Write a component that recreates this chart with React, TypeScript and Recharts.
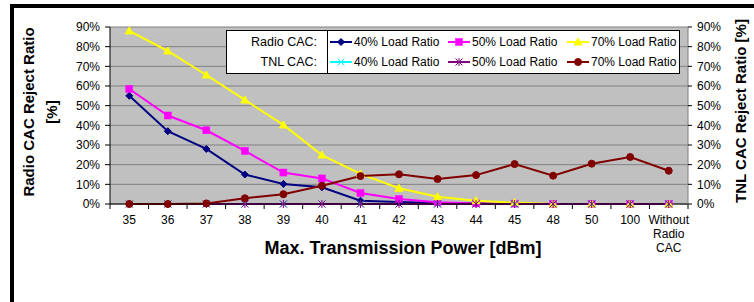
import React from 'react';
import { LineChart, Line, XAxis, YAxis, CartesianGrid } from 'recharts';

const categories = ['35', '36', '37', '38', '39', '40', '41', '42', '43', '44', '45', '48', '50', '100', 'Without Radio CAC'];
const radio40 = [55, 37, 28, 15, 10.2, 8.5, 1.7, 1.0, 0.5, 0.2, 0, 0, 0, 0, 0];
const radio50 = [58.5, 45, 37.5, 27, 16, 13, 5.6, 2.5, 0.9, 0.3, 0.2, 0, 0, 0, 0];
const radio70 = [88, 77.8, 65.6, 52.9, 40.2, 24.9, 15.3, 8, 3.7, 1.7, 0.7, 0, 0, 0, 0];
const tnl40 = [0, 0, 0, 0, 0, 0, 0, 0, 0, 0, 0, 0, 0, 0, 0];
const tnl50 = [0, 0, 0, 0, 0, 0, 0, 0, 0, 0, 0, 0, 0, 0, 0];
const tnl70 = [0, 0, 0.3, 2.9, 5, 9.3, 14.2, 15.1, 12.7, 14.7, 20.3, 14.4, 20.5, 23.9, 16.9];
const yTicks = [0, 10, 20, 30, 40, 50, 60, 70, 80, 90];
const legendLabel = '40% Load Ratio';
const legendLabels50 = '50% Load Ratio';
const legendLabels70 = '70% Load Ratio';

const data = categories.map((c, i) => ({
  idx: i,
  cat: c,
  r40: radio40[i],
  r50: radio50[i],
  r70: radio70[i],
  t40: tnl40[i],
  t50: tnl50[i],
  t70: tnl70[i],
}));

const xTicks: number[] = [];
for (let i = 0; i < categories.length; i++) {
  xTicks.push(i - 0.5);
  xTicks.push(i);
}
xTicks.push(categories.length - 0.5);

const FONT = '"Liberation Sans", Arial, sans-serif';

const C_R40 = '#000080';
const C_R50 = '#FF00FF';
const C_R70 = '#FFFF00';
const C_T40 = '#00FFFF';
const C_T50 = '#800080';
const C_T70 = '#800000';

type MK = 'diamond' | 'square' | 'triangle' | 'x' | 'star' | 'circle';

const Marker = ({ type, cx, cy, color }: { type: MK; cx: number; cy: number; color: string }) => {
  switch (type) {
    case 'diamond':
      return <path d={`M${cx},${cy - 3.5}L${cx + 3.5},${cy}L${cx},${cy + 3.5}L${cx - 3.5},${cy}Z`} fill={color} stroke={color} />;
    case 'square':
      return <rect x={cx - 3.5} y={cy - 3.5} width={7} height={7} fill={color} stroke={color} strokeWidth={0.5} />;
    case 'triangle':
      return <path d={`M${cx},${cy - 4}L${cx + 4},${cy + 3}L${cx - 4},${cy + 3}Z`} fill={color} stroke={color} />;
    case 'x':
      return (
        <g stroke={color} strokeWidth={1}>
          <line x1={cx - 3.5} y1={cy - 3.5} x2={cx + 3.5} y2={cy + 3.5} />
          <line x1={cx - 3.5} y1={cy + 3.5} x2={cx + 3.5} y2={cy - 3.5} />
        </g>
      );
    case 'star':
      return (
        <g stroke={color} strokeWidth={1}>
          <line x1={cx - 3.5} y1={cy - 3.5} x2={cx + 3.5} y2={cy + 3.5} />
          <line x1={cx - 3.5} y1={cy + 3.5} x2={cx + 3.5} y2={cy - 3.5} />
          <line x1={cx} y1={cy - 4} x2={cx} y2={cy + 4} />
        </g>
      );
    case 'circle':
    default:
      return <circle cx={cx} cy={cy} r={3.5} fill={color} stroke={color} />;
  }
};

const dotFor = (type: MK, color: string) => (p: any) => (
  <g key={`${type}-${p.index}`}>
    <Marker type={type} cx={p.cx} cy={p.cy} color={color} />
  </g>
);

const XTick = (props: any) => {
  const { x, y, payload } = props;
  const v = payload.value;
  if (!Number.isInteger(v)) {
    return <line x1={x} x2={x} y1={y} y2={y + 5} stroke="#000" strokeWidth={1} />;
  }
  const label = categories[v];
  const lines = label === 'Without Radio CAC' ? ['Without', 'Radio', 'CAC'] : [label];
  return (
    <text x={x} y={y} textAnchor="middle" fontSize={12} fontFamily={FONT} fill="#000">
      {lines.map((l, i) => (
        <tspan key={i} x={x} dy={i === 0 ? 20 : 14}>
          {l}
        </tspan>
      ))}
    </text>
  );
};

const LegendBox = () => {
  const rows: { label: string; items: { type: MK; color: string; text: string }[] }[] = [
    {
      label: 'Radio CAC:',
      items: [
        { type: 'diamond', color: C_R40, text: legendLabel },
        { type: 'square', color: C_R50, text: legendLabels50 },
        { type: 'triangle', color: C_R70, text: legendLabels70 },
      ],
    },
    {
      label: 'TNL CAC:',
      items: [
        { type: 'x', color: C_T40, text: legendLabel },
        { type: 'star', color: C_T50, text: legendLabels50 },
        { type: 'circle', color: C_T70, text: legendLabels70 },
      ],
    },
  ];
  const starts = [104, 222, 341];
  return (
    <svg
      width={454}
      height={44}
      style={{ position: 'absolute', left: 226, top: 30 }}
    >
      <rect x={0.5} y={0.5} width={453} height={43} fill="#fff" stroke="#000" />
      <line x1={101.5} x2={101.5} y1={0} y2={44} stroke="#000" />
      {rows.map((r, ri) => {
        const cy = 12 + ri * 20;
        return (
          <g key={ri}>
            <text x={91} y={cy + 4} textAnchor="end" fontSize={12.5} fontFamily={FONT} fill="#000">
              {r.label}
            </text>
            {r.items.map((it, ii) => (
              <g key={ii}>
                <line x1={starts[ii]} x2={starts[ii] + 22} y1={cy} y2={cy} stroke={it.color} strokeWidth={2} />
                <Marker type={it.type} cx={starts[ii] + 11} cy={cy} color={it.color} />
                <text x={starts[ii] + 24} y={cy + 4} fontSize={12} fontFamily={FONT} fill="#000">
                  {it.text}
                </text>
              </g>
            ))}
          </g>
        );
      })}
    </svg>
  );
};

export default function App() {
  return (
    <div style={{ position: 'absolute', left: 0, top: 0, width: 754, height: 302, background: '#fff', overflow: 'hidden' }}>
      <div style={{ position: 'absolute', left: 10, top: 4, width: 744, height: 4, background: '#000' }} />
      <div style={{ position: 'absolute', left: 10, top: 4, width: 4, height: 298, background: '#000' }} />
      <div style={{ position: 'absolute', left: 0, top: 0 }}>
        <LineChart width={754} height={302} data={data} margin={{ top: 27, right: 16, bottom: 58, left: 50 }}>
          <CartesianGrid yAxisId="left" vertical={false} stroke="#808080" fill="#C0C0C0" fillOpacity={1} />
          <XAxis
            dataKey="idx"
            type="number"
            domain={[-0.5, 14.5]}
            ticks={xTicks}
            interval={0}
            tick={<XTick />}
            tickLine={false}
            tickSize={0}
            tickMargin={0}
            height={40}
            stroke="#000"
            axisLine={{ stroke: '#000' }}
          />
          <YAxis
            yAxisId="left"
            domain={[0, 90]}
            ticks={yTicks}
            interval={0}
            width={60}
            tickFormatter={(v: number) => `${v}%`}
            tick={{ fontSize: 12, fontFamily: FONT, fill: '#000' }}
            tickSize={5}
            tickMargin={5}
            axisLine={{ stroke: '#000' }}
            tickLine={{ stroke: '#000' }}
          />
          <YAxis
            yAxisId="right"
            orientation="right"
            domain={[0, 90]}
            ticks={yTicks}
            interval={0}
            width={50}
            tickFormatter={(v: number) => `${v}%`}
            tick={{ fontSize: 12, fontFamily: FONT, fill: '#000' }}
            tickSize={4}
            tickMargin={5}
            axisLine={{ stroke: '#808080' }}
            tickLine={{ stroke: '#000' }}
          />
          <Line yAxisId="left" dataKey="r40" stroke={C_R40} strokeWidth={2} dot={dotFor('diamond', C_R40)} activeDot={false} isAnimationActive={false} />
          <Line yAxisId="left" dataKey="r50" stroke={C_R50} strokeWidth={2} dot={dotFor('square', C_R50)} activeDot={false} isAnimationActive={false} />
          <Line yAxisId="left" dataKey="r70" stroke={C_R70} strokeWidth={2} dot={dotFor('triangle', C_R70)} activeDot={false} isAnimationActive={false} />
          <Line yAxisId="right" dataKey="t40" stroke={C_T40} strokeWidth={2} dot={dotFor('x', C_T40)} activeDot={false} isAnimationActive={false} />
          <Line yAxisId="right" dataKey="t50" stroke={C_T50} strokeWidth={2} dot={dotFor('star', C_T50)} activeDot={false} isAnimationActive={false} />
          <Line yAxisId="right" dataKey="t70" stroke={C_T70} strokeWidth={2} dot={dotFor('circle', C_T70)} activeDot={false} isAnimationActive={false} />
        </LineChart>
      </div>
      <LegendBox />
      <div
        style={{
          position: 'absolute',
          left: 40,
          top: 112,
          width: 0,
          height: 0,
        }}
      >
        <div
          style={{
            position: 'absolute',
            transform: 'translate(-50%, -50%) rotate(-90deg)',
            whiteSpace: 'nowrap',
            textAlign: 'center',
            fontFamily: FONT,
            fontWeight: 'bold',
            fontSize: 15,
            lineHeight: '23px',
            color: '#000',
          }}
        >
          Radio CAC Reject Ratio
          <br />
          [%]
        </div>
      </div>
      <div style={{ position: 'absolute', left: 740, top: 111, width: 0, height: 0 }}>
        <div
          style={{
            position: 'absolute',
            transform: 'translate(-50%, -50%) rotate(-90deg)',
            whiteSpace: 'nowrap',
            fontFamily: FONT,
            fontWeight: 'bold',
            fontSize: 15,
            color: '#000',
          }}
        >
          TNL CAC Reject Ratio [%]
        </div>
      </div>
      <div
        style={{
          position: 'absolute',
          left: 403,
          top: 248,
          transform: 'translate(-50%, -50%)',
          whiteSpace: 'nowrap',
          fontFamily: FONT,
          fontWeight: 'bold',
          fontSize: 18,
          color: '#000',
        }}
      >
        Max. Transmission Power [dBm]
      </div>
    </div>
  );
}
